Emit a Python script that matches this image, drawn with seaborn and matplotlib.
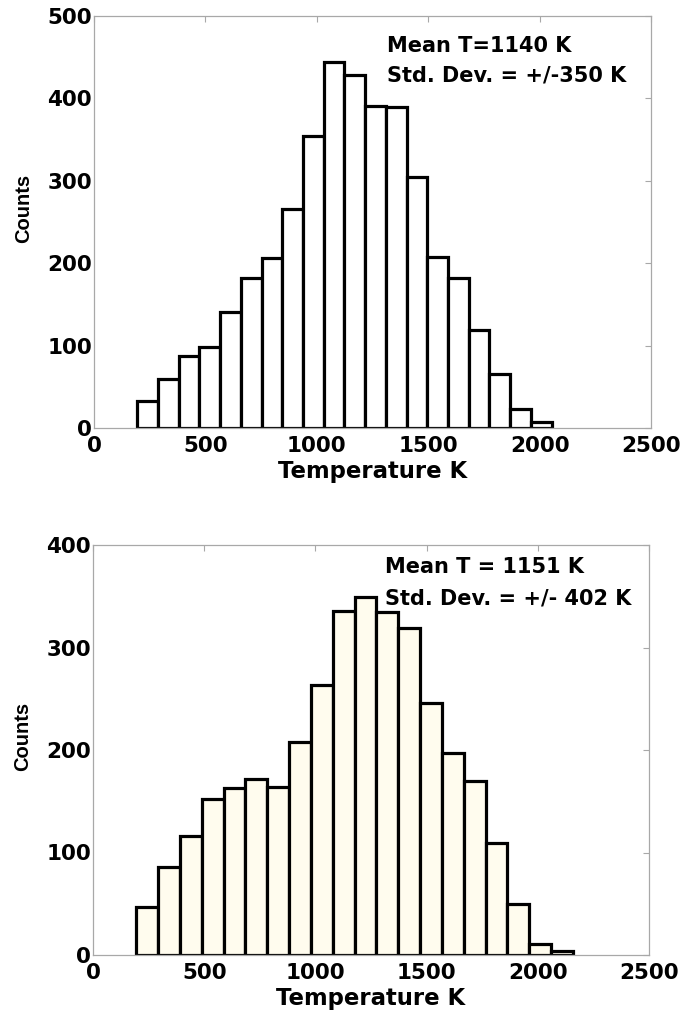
import numpy as np
import pandas as pd
import matplotlib
matplotlib.use("Agg")
import matplotlib.pyplot as plt
import seaborn as sns

# ---------------- data ----------------
top_centers = [240.5, 333.5, 426.5, 519.5, 612.5, 705.5, 798.5, 891.5, 984.5, 1077.5,
               1170.5, 1263.5, 1356.5, 1449.5, 1542.5, 1635.5, 1728.5, 1821.5, 1914.5, 2007.5]
top_counts = [33, 60, 87, 98, 141, 182, 206, 266, 354, 444,
              428, 391, 389, 305, 207, 182, 119, 66, 23, 7]
top_range = (194, 2054)

bot_centers = [243.1, 341.3, 439.5, 537.7, 635.9, 734.1, 832.3, 930.5, 1028.7, 1126.9,
               1225.1, 1323.3, 1421.5, 1519.7, 1617.9, 1716.1, 1814.3, 1912.5, 2010.7, 2108.9]
bot_counts = [47, 86, 116, 152, 163, 172, 164, 208, 263, 336,
              349, 335, 319, 246, 197, 170, 109, 50, 11, 4]
bot_range = (194, 2158)

x_ticks = [0, 500, 1000, 1500, 2000, 2500]
top_yticks = [0, 100, 200, 300, 400, 500]
bot_yticks = [0, 100, 200, 300, 400]
top_text = ["Mean T=1140 K", "Std. Dev. = +/-350 K"]
bot_text = ["Mean T = 1151 K", "Std. Dev. = +/- 402 K"]
x_label = "Temperature K"
y_label = "Counts"

# ---------------- style ----------------
sns.set_theme(style="white")
plt.rcParams['font.family'] = ['DejaVu Sans']
plt.rcParams['text.color'] = 'black'
plt.rcParams['axes.labelcolor'] = 'black'
plt.rcParams['xtick.color'] = 'black'
plt.rcParams['ytick.color'] = 'black'

W, H = 687, 1016
fig = plt.figure(figsize=(W / 100, H / 100), dpi=100)
ax1 = fig.add_axes([94 / W, 1 - 428 / H, 557 / W, 412 / H])
ax2 = fig.add_axes([93 / W, 1 - 955 / H, 556 / W, 410 / H])

grey = '#a8a8a8'


def draw(ax, centers, counts, brange, color, yticks, texts, tx, ty, hpx):
    sns.histplot(x=centers, weights=counts, bins=len(centers), binrange=brange,
                 color=color, alpha=1, edgecolor='black', linewidth=2.3, ax=ax)
    ax.set_xlim(0, 2500)
    ax.set_ylim(yticks[0], yticks[-1])
    ax.set_xticks(x_ticks)
    ax.set_xticklabels([str(v) for v in x_ticks], fontsize=15.5, fontweight='bold')
    ax.set_yticks(yticks)
    ax.set_yticklabels([str(v) for v in yticks], fontsize=15.5, fontweight='bold')
    ax.tick_params(axis='both', direction='in', length=4, width=0.8, color=grey,
                   labelcolor='black', top=True, right=True)
    ax.tick_params(axis='x', pad=6)
    ax.tick_params(axis='y', pad=1.5)
    for s in ax.spines.values():
        s.set_color(grey)
        s.set_linewidth(0.9)
    ax.set_xlabel(x_label, fontsize=16.4, fontweight='bold', color='black')
    ax.xaxis.set_label_coords(0.5, -32 / hpx)
    ax.set_ylabel(y_label, fontsize=14.5, fontweight='bold', family=['Liberation Sans'],
                  color='black')
    ax.yaxis.label.set_va('center')
    ax.yaxis.set_label_coords(-70.5 / 557, 0.534)
    for t, yy in zip(texts, ty):
        ax.text(tx, yy, t, fontsize=15, fontweight='bold', ha='left', va='baseline',
                color='black')


draw(ax1, top_centers, top_counts, top_range, 'white', top_yticks, top_text,
     1315, [456, 420], 412)
draw(ax2, bot_centers, bot_counts, bot_range, '#fffcee', bot_yticks, bot_text,
     1313, [373, 342], 410)

fig.savefig('out.png', dpi=100)
